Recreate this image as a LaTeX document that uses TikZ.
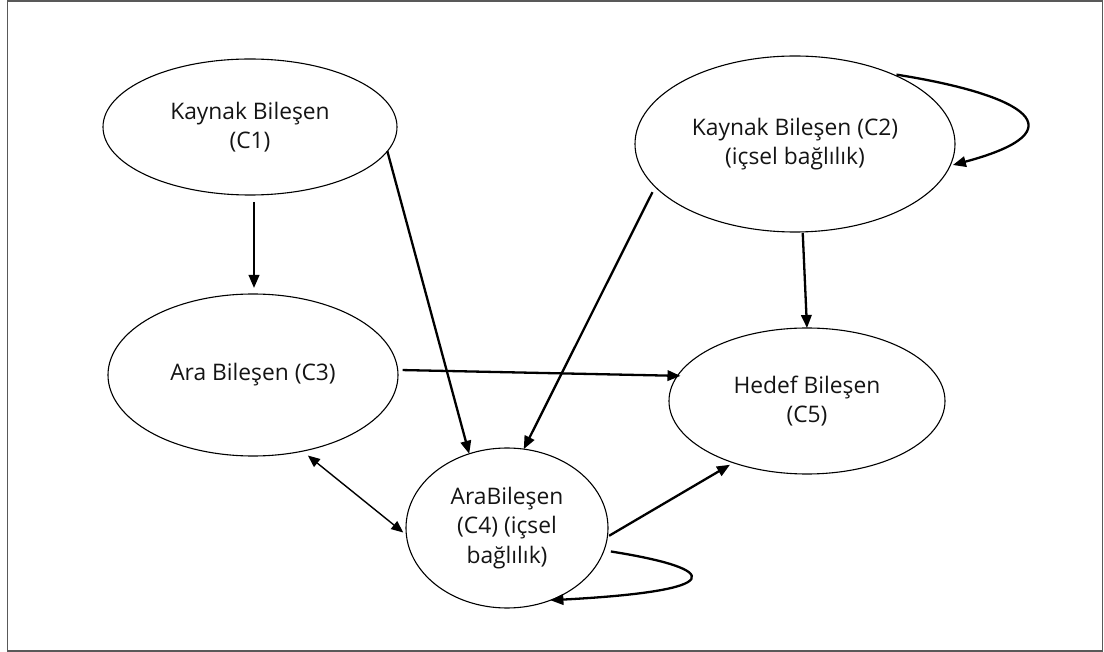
\documentclass[tikz,border=0pt]{standalone}
\usepackage{fontspec}
\setmainfont{Open Sans}
\usetikzlibrary{shapes.geometric,arrows.meta}
\begin{document}
\begin{tikzpicture}[x=1pt,y=1pt,
  comp/.style={draw, ellipse, line width=1.1pt, inner sep=0pt, outer sep=0pt,
    align=center, font=\fontsize{22.8}{29.5}\selectfont, text=black!92},
  arr/.style={line width=2.3pt, -{Triangle[length=13pt,width=10.5pt]}},
  twoway/.style={line width=1.4pt,
    {Triangle[length=12pt,width=10pt]}-{Triangle[length=12pt,width=10pt]}}]
\useasboundingbox (0,0) rectangle (1104,-652);
\draw[line width=1.5pt, draw=black!65] (7.5,-0.8) rectangle (1102.5,-650.8);

% components
\node[comp, minimum width=294pt, minimum height=136pt] (c1) at (250,-127) {Kaynak Bileşen\\(C1)};
\node[comp, minimum width=320pt, minimum height=176pt] (c2) at (795,-144) {Kaynak Bileşen (C2)\\(içsel bağlılık)};
\node[comp, minimum width=290pt, minimum height=162pt] (c3) at (253,-375) {Ara Bileşen (C3)};
\node[comp, minimum width=202pt, minimum height=160pt] (c4) at (507,-528) {AraBileşen\\(C4) (içsel\\bağlılık)};
\node[comp, minimum width=276pt, minimum height=146pt] (c5) at (807,-401) {Hedef Bileşen\\(C5)};

% dependencies
\draw[arr, shorten <=7pt, shorten >=6pt] ([xshift=4pt]c1.south) -- ([xshift=1pt]c3.north);
\draw[arr] (c1.-10.8) -- (c4.117.2);
\draw[arr, shorten <=6pt] (c2.-163.7) -- (c4.78.8);
\draw[arr, shorten <=1pt] (c2.-85.5) -- (c5.north);
\draw[arr, shorten <=5pt, shorten >=-3pt] (c3.2.7) -- (c5.169.2);
\draw[arr, shorten <=2pt, shorten >=4pt] (c4.-5) -- (c5.-140.6);
\draw[twoway, shorten <=7pt, shorten >=4pt] (c3.-57.4) -- (c4.-176.2);

% self dependencies
\draw[arr, shorten <=5pt, shorten >=3pt] (c2.36.3) to[out=-9, in=15, distance=136pt] (c2.-8.7);
\draw[arr, shorten <=7pt] (c4.-13) to[out=-9, in=3, out distance=120pt, in distance=180pt] (c4.-59.8);
\end{tikzpicture}
\end{document}
